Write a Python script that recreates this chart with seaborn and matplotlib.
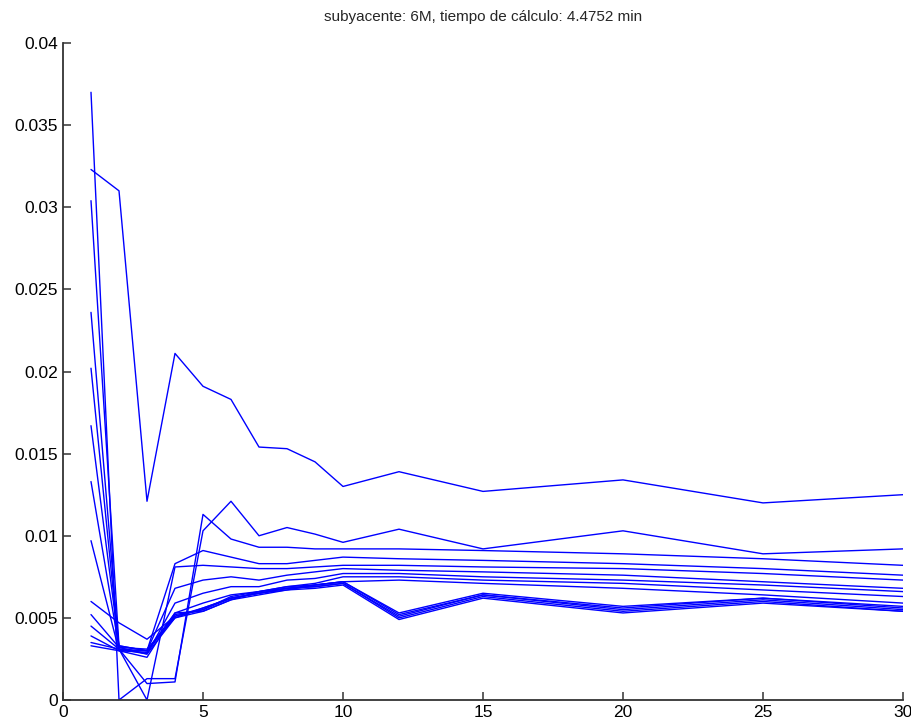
import seaborn as sns
import matplotlib.pyplot as plt
import pandas as pd

# puntos de vencimiento (eje x)
x_vals = [1, 2, 3, 4, 5, 6, 7, 8, 9, 10, 12, 15, 20, 25, 30]

# errores por curva
linea_sup = [0.0323, 0.0310, 0.0121, 0.0211, 0.0191, 0.0183, 0.0154, 0.0153, 0.0145, 0.0130, 0.0139, 0.0127, 0.0134, 0.0120, 0.0125]
linea_a = [0.0370, 0.0000, 0.0013, 0.0013, 0.0103, 0.0121, 0.0100, 0.0105, 0.0101, 0.0096, 0.0104, 0.0092, 0.0103, 0.0089, 0.0092]
linea_b = [0.0236, 0.0031, 0.0010, 0.0011, 0.0113, 0.0098, 0.0093, 0.0093, 0.0092, 0.0092, 0.0092, 0.0091, 0.0089, 0.0086, 0.0082]
media_1 = [0.0304, 0.0033, 0.0030, 0.0083, 0.0091, 0.0087, 0.0083, 0.0083, 0.0085, 0.0087, 0.0086, 0.0085, 0.0083, 0.0080, 0.0076]
media_2 = [0.0202, 0.0031, 0.0000, 0.0081, 0.0082, 0.0081, 0.0080, 0.0080, 0.0081, 0.0082, 0.0082, 0.0081, 0.0080, 0.0077, 0.0073]
media_3 = [0.0167, 0.0033, 0.0030, 0.0068, 0.0073, 0.0075, 0.0073, 0.0076, 0.0078, 0.0080, 0.0079, 0.0078, 0.0076, 0.0072, 0.0068]
media_4 = [0.0133, 0.0032, 0.0028, 0.0059, 0.0065, 0.0069, 0.0069, 0.0073, 0.0074, 0.0077, 0.0077, 0.0075, 0.0073, 0.0070, 0.0066]
media_5 = [0.0097, 0.0030, 0.0026, 0.0053, 0.0059, 0.0064, 0.0066, 0.0069, 0.0071, 0.0075, 0.0075, 0.0073, 0.0071, 0.0067, 0.0063]
media_6 = [0.0060, 0.0047, 0.0037, 0.0051, 0.0056, 0.0062, 0.0065, 0.0068, 0.0070, 0.0072, 0.0073, 0.0071, 0.0068, 0.0064, 0.0059]
haz_1 = [0.0052, 0.0032, 0.0031, 0.0050, 0.0054, 0.0061, 0.0064, 0.0067, 0.0068, 0.0070, 0.0049, 0.0062, 0.0053, 0.0059, 0.0054]
haz_2 = [0.0045, 0.0031, 0.0030, 0.0051, 0.0055, 0.0062, 0.0065, 0.0068, 0.0069, 0.0071, 0.0050, 0.0063, 0.0054, 0.0060, 0.0054]
haz_3 = [0.0039, 0.0030, 0.0029, 0.0052, 0.0055, 0.0063, 0.0066, 0.0068, 0.0069, 0.0071, 0.0051, 0.0064, 0.0055, 0.0061, 0.0055]
haz_4 = [0.0035, 0.0031, 0.0028, 0.0050, 0.0056, 0.0062, 0.0065, 0.0067, 0.0070, 0.0072, 0.0052, 0.0064, 0.0056, 0.0062, 0.0056]
haz_5 = [0.0033, 0.0030, 0.0030, 0.0053, 0.0054, 0.0061, 0.0066, 0.0069, 0.0070, 0.0072, 0.0053, 0.0065, 0.0057, 0.0062, 0.0057]

series = [linea_sup, linea_a, linea_b, media_1, media_2, media_3, media_4,
          media_5, media_6, haz_1, haz_2, haz_3, haz_4, haz_5]

xticks = [0, 5, 10, 15, 20, 25, 30]
yticks = [0, 0.005, 0.01, 0.015, 0.02, 0.025, 0.03, 0.035, 0.04]
ytick_labels = ["0", "0.005", "0.01", "0.015", "0.02", "0.025", "0.03", "0.035", "0.04"]
titulo = "subyacente: 6M, tiempo de cálculo: 4.4752 min"

filas = []
for i, s in enumerate(series):
    for xv, yv in zip(x_vals, s):
        filas.append({"linea": i, "x": xv, "y": yv})
df = pd.DataFrame(filas)

sns.set_style("ticks")
plt.rcParams["font.family"] = ["Liberation Sans Narrow", "Liberation Sans", "DejaVu Sans"]

fig = plt.figure(figsize=(9.11, 7.24), dpi=100)
ax = fig.add_axes([63 / 911, 24 / 724, 840 / 911, 657 / 724])

sns.lineplot(data=df, x="x", y="y", units="linea", estimator=None,
             color="#0000ff", linewidth=1.0, ax=ax)

ax.set_xlim(0, 30)
ax.set_ylim(0, 0.04)
ax.set_xticks(xticks)
ax.set_xticklabels([str(t) for t in xticks])
ax.set_yticks(yticks)
ax.set_yticklabels(ytick_labels)
ax.set_xlabel("")
ax.set_ylabel("")
ax.set_title(titulo, fontsize=11, pad=16)

for lado in ["top", "right"]:
    ax.spines[lado].set_visible(False)
for lado in ["left", "bottom"]:
    ax.spines[lado].set_color("#333333")
    ax.spines[lado].set_linewidth(1.3)
ax.tick_params(direction="in", length=6, width=1.1, colors="#333333",
               labelcolor="black", labelsize=12.5)

fig.savefig("out.png", dpi=100)
